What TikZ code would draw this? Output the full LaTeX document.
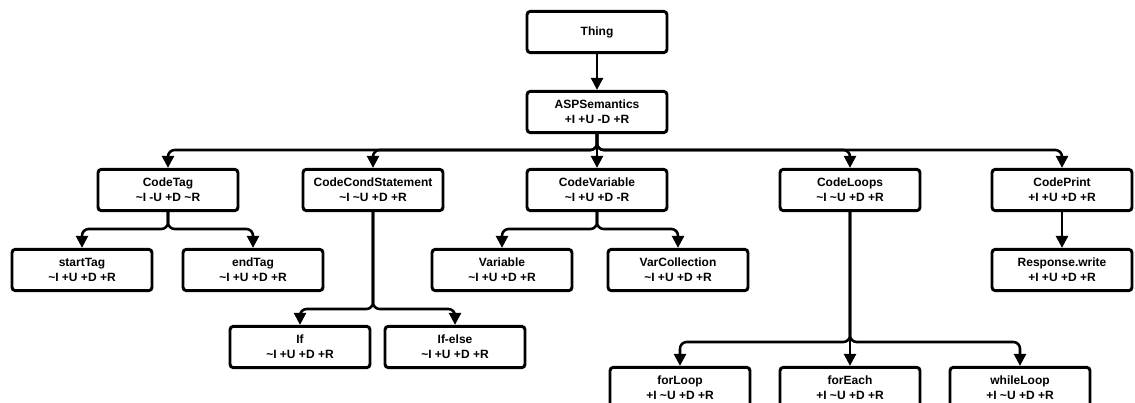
\documentclass[tikz,border=0pt]{standalone}
\usepackage{fontspec}
\setmainfont{Liberation Sans}
\usetikzlibrary{arrows.meta}
\begin{document}
\begin{tikzpicture}[x=0.75pt,y=-0.75pt,
    box/.style={draw,line width=2.2pt,rounded corners=2.5pt,minimum width=105pt,minimum height=31pt,
        align=center,inner sep=1pt,font=\bfseries\fontsize{9}{11.2}\selectfont},
    link/.style={line width=1.9pt,rounded corners=5pt,-{Triangle[length=9pt,width=9pt]}}]
    \useasboundingbox (0,0) rectangle (1135,403);
    % top
    \node[box] (thing) at (597,32) {Thing};
    \node[box] (asp) at (597,112) {ASPSemantics\\+I +U -D +R};
    % second row
    \node[box] (codetag) at (168,190) {CodeTag\\\textasciitilde I -U +D \textasciitilde R};
    \node[box] (codecond) at (373,190) {CodeCondStatement\\\textasciitilde I \textasciitilde U +D +R};
    \node[box] (codevar) at (597,190) {CodeVariable\\\textasciitilde I +U +D -R};
    \node[box] (codeloops) at (850,190) {CodeLoops\\\textasciitilde I \textasciitilde U +D +R};
    \node[box] (codeprint) at (1062,190) {CodePrint\\+I +U +D +R};
    % third row
    \node[box] (starttag) at (82,270) {startTag\\\textasciitilde I +U +D +R};
    \node[box] (endtag) at (253,270) {endTag\\\textasciitilde I +U +D +R};
    \node[box] (variable) at (502,270) {Variable\\\textasciitilde I +U +D +R};
    \node[box] (varcoll) at (678,270) {VarCollection\\\textasciitilde I +U +D +R};
    \node[box] (response) at (1062,270) {Response.write\\+I +U +D +R};
    % lower rows
    \node[box] (if) at (300,347) {If\\\textasciitilde I +U +D +R};
    \node[box] (ifelse) at (455,347) {If-else\\\textasciitilde I +U +D +R};
    \node[box] (forloop) at (680,388) {forLoop\\+I \textasciitilde U +D +R};
    \node[box] (foreach) at (850,388) {forEach\\+I \textasciitilde U +D +R};
    \node[box] (whileloop) at (1020,388) {whileLoop\\+I \textasciitilde U +D +R};
    % split points
    \coordinate (s0) at (597,150);
    \coordinate (s1) at (168,229);
    \coordinate (s2) at (597,229);
    \coordinate (s3) at (373,309);
    \coordinate (s4) at (850,342);
    % connectors
    \draw[link] (thing) -- (asp);
    \foreach \c in {codetag,codecond,codevar,codeloops,codeprint}
        \draw[link] (asp.south) -- (s0) -| (\c.north);
    \foreach \c in {starttag,endtag}
        \draw[link] (codetag.south) -- (s1) -| (\c.north);
    \foreach \c in {variable,varcoll}
        \draw[link] (codevar.south) -- (s2) -| (\c.north);
    \foreach \c in {if,ifelse}
        \draw[link] (codecond.south) -- (s3) -| (\c.north);
    \foreach \c in {forloop,foreach,whileloop}
        \draw[link] (codeloops.south) -- (s4) -| (\c.north);
    \draw[link] (codeprint) -- (response);
\end{tikzpicture}
\end{document}
